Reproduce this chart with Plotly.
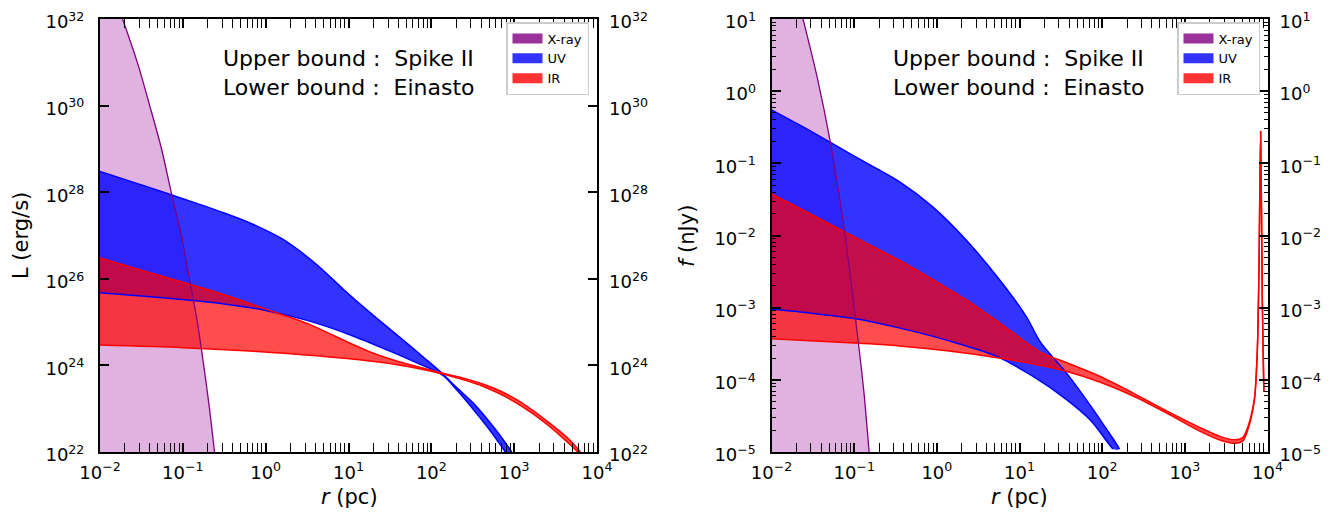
import numpy as np
import plotly.graph_objects as go

# ---------------- data (log10 values) ----------------
# Left panel: L (erg/s) vs r (pc)
xray_L_logr = [-2.0, -1.728, -1.54, -1.40, -1.26, -1.14, -1.02, -0.92, -0.827, -0.748, -0.68, -0.62, -0.58]
xray_L_up = [33.4, 32.0, 30.94, 30.0, 29.02, 28.0, 27.02, 26.0, 25.03, 24.0, 23.03, 22.04, 21.36]

uv_L_up_logr = [-2.0, -1.5, -1.0, -0.5, -0.19, 0.21, 0.615, 0.937, 1.26, 1.624, 1.948, 2.14, 2.3, 2.5, 2.7, 2.85, 2.97]
uv_L_up = [28.48, 28.17, 27.85, 27.52, 27.29, 26.91, 26.33, 25.76, 25.22, 24.64, 24.12, 23.80, 23.50, 23.14, 22.70, 22.33, 22.0]
uv_L_low_logr = [-2.0, -1.5, -1.0, -0.5, 0.0, 0.5, 1.0, 1.5, 1.8, 2.14, 2.3, 2.5, 2.7, 2.85, 2.93]
uv_L_low = [25.68, 25.60, 25.52, 25.42, 25.27, 25.04, 24.72, 24.33, 24.08, 23.77, 23.45, 23.0, 22.52, 22.12, 21.9]

ir_L_up_logr = [-2.0, -1.5, -1.0, -0.5, 0.0, 0.5, 1.0, 1.26, 1.62, 2.14, 2.4, 2.62, 2.82, 3.02, 3.22, 3.42, 3.6, 3.72, 3.80]
ir_L_up = [26.48, 26.20, 25.92, 25.63, 25.30, 24.97, 24.53, 24.31, 24.08, 23.82, 23.70, 23.57, 23.42, 23.22, 22.97, 22.68, 22.40, 22.18, 22.0]
ir_L_low_logr = [-2.0, -1.0, -0.19, 0.615, 1.26, 1.7, 2.14, 2.4, 2.62, 2.82, 3.02, 3.22, 3.42, 3.6, 3.77]
ir_L_low = [24.47, 24.41, 24.33, 24.22, 24.10, 23.98, 23.80, 23.66, 23.52, 23.35, 23.14, 22.89, 22.60, 22.30, 22.0]

# Right panel: f (nJy) vs r (pc)
xray_R_logr = [-2.0, -1.619, -1.449, -1.286, -1.125, -0.983, -0.882, -0.822, -0.78]
xray_R_up = [2.7, 1.0, 0.20, -0.72, -1.87, -3.16, -4.17, -4.96, -5.5]

uv_R_up_logr = [-2.0, -1.5, -1.0, -0.458, -0.053, 0.352, 0.756, 1.08, 1.26, 1.565, 1.89, 2.21]
uv_R_up = [-0.26, -0.57, -0.90, -1.25, -1.60, -2.06, -2.61, -3.12, -3.49, -3.90, -4.41, -4.96]
uv_R_low_logr = [-2.0, -1.5, -1.0, -0.458, 0.149, 0.716, 1.16, 1.565, 1.85, 2.13]
uv_R_low = [-3.02, -3.08, -3.15, -3.28, -3.46, -3.67, -3.95, -4.27, -4.55, -4.96]

ir_R_up_logr = [-2.0, -1.5, -1.0, -0.397, -0.053, 0.352, 0.756, 1.26, 1.565, 1.97, 2.37, 2.78, 3.18, 3.44, 3.62,
                3.70, 3.76, 3.84, 3.877, 3.897, 3.917, 3.937, 3.956]
ir_R_up = [-1.425, -1.72, -2.02, -2.38, -2.61, -2.89, -3.21, -3.62, -3.76, -3.95, -4.18, -4.43, -4.66, -4.79, -4.83,
           -4.80, -4.66, -4.27, -3.58, -2.43, -0.56, -2.89, -4.17]
ir_R_low_logr = [-2.0, -1.0, -0.458, 0.149, 0.716, 1.26, 1.565, 1.97, 2.37, 2.78, 3.18, 3.44, 3.62,
                 3.70, 3.76, 3.84, 3.877, 3.897, 3.917, 3.937, 3.956]
ir_R_low = [-3.43, -3.49, -3.53, -3.60, -3.69, -3.80, -3.88, -4.03, -4.22, -4.46, -4.71, -4.84, -4.88,
            -4.85, -4.70, -4.30, -3.60, -2.45, -0.56, -2.89, -4.17]

x_decades = [-2, -1, 0, 1, 2, 3, 4]
yL_decades = [22, 24, 26, 28, 30, 32]
yR_decades = [-5, -4, -3, -2, -1, 0, 1]
legend_names = ["X-ray", "UV", "IR"]

# ---------------- styling ----------------
FONT = "DejaVu Sans"
C_XRAY_FILL = "rgb(224,178,224)"
C_UV_FILL = "rgba(0,0,255,0.8)"
C_IR_FILL = "rgba(255,0,0,0.7)"
LEG_COLORS = ["rgb(153,51,153)", "rgb(51,51,255)", "rgb(255,51,51)"]
SPL = dict(shape="spline", smoothing=0.8)


def P(a):
    return 10.0 ** np.asarray(a, dtype=float)


def sup(e):
    s = str(e).replace("-", "\u2212")
    return f"10<sup>{s}</sup>"


def band_fill(up_r, up_v, lo_r, lo_v, color, xa, ya):
    xs = np.concatenate([P(up_r), P(lo_r)[::-1]])
    ys = np.concatenate([P(up_v), P(lo_v)[::-1]])
    return go.Scatter(x=xs, y=ys, mode="lines", fill="toself", fillcolor=color,
                      line=dict(width=0, **SPL), hoverinfo="skip", showlegend=False,
                      xaxis=xa, yaxis=ya)


def bound_line(r, v, color, xa, ya):
    return go.Scatter(x=P(r), y=P(v), mode="lines", line=dict(color=color, width=1.5, **SPL),
                      hoverinfo="skip", showlegend=False, xaxis=xa, yaxis=ya)


fig = go.Figure()

for (xa, ya, yov, xr, xu, ur, uu, lr, lu, ir, iu, jr, ju, leg) in [
    ("x", "y", "y3", xray_L_logr, xray_L_up, uv_L_up_logr, uv_L_up, uv_L_low_logr, uv_L_low,
     ir_L_up_logr, ir_L_up, ir_L_low_logr, ir_L_low, "legend"),
    ("x2", "y2", "y4", xray_R_logr, xray_R_up, uv_R_up_logr, uv_R_up, uv_R_low_logr, uv_R_low,
     ir_R_up_logr, ir_R_up, ir_R_low_logr, ir_R_low, "legend2"),
]:
    # X-ray fill down to the bottom of the axis
    fig.add_trace(go.Scatter(x=P(xr), y=P(xu), mode="lines", fill="tozeroy",
                             fillcolor=C_XRAY_FILL, line=dict(width=0, **SPL), hoverinfo="skip",
                             showlegend=False, xaxis=xa, yaxis=ya))
    fig.add_trace(band_fill(ur, uu, lr, lu, C_UV_FILL, xa, ya))
    fig.add_trace(band_fill(ir, iu, jr, ju, C_IR_FILL, xa, ya))
    fig.add_trace(bound_line(ur, uu, "blue", xa, ya))
    fig.add_trace(bound_line(lr, lu, "blue", xa, ya))
    fig.add_trace(bound_line(ir, iu, "red", xa, ya))
    fig.add_trace(bound_line(jr, ju, "red", xa, ya))
    # X-ray boundary line, on the overlay axis (drawn on top, also carries right labels)
    fig.add_trace(go.Scatter(x=P(xr), y=P(xu), mode="lines",
                             line=dict(color="purple", width=1.3, **SPL),
                             hoverinfo="skip", showlegend=False, xaxis=xa, yaxis=yov))
    # legend-only entries (wide rectangular patches)
    for name, col in zip(legend_names, LEG_COLORS):
        fig.add_trace(go.Scatter(x=[None], y=[None], mode="lines",
                                 line=dict(width=12, color=col), name=name, legend=leg,
                                 xaxis=xa, yaxis=ya))

minor_x = [k * 10.0 ** n for n in range(-2, 4) for k in range(2, 10)]
minor_yR = [k * 10.0 ** n for n in range(-5, 1) for k in range(2, 10)]

tickfont = dict(family=FONT, size=18, color="black")
common_axis = dict(type="log", showgrid=False, zeroline=False, showline=True, linecolor="black",
                   linewidth=2, ticks="inside", ticklen=9, tickwidth=1.6, tickcolor="black",
                   mirror="allticks", tickfont=tickfont, tickmode="array", automargin=False)
minor_style = dict(ticks="inside", ticklen=4, tickwidth=1.1, tickcolor="black", showgrid=False)
overlay_axis = dict(type="log", showgrid=False, zeroline=False, showline=False, ticks="",
                    side="right", tickfont=tickfont, tickmode="array", automargin=False,
                    ticklabelstandoff=11, ticklabelshift=3)

xdomL = [100 / 1335, 597 / 1335]
xdomR = [771.5 / 1335, 1267.5 / 1335]
ydom = [1 - 452 / 516, 1 - 19 / 516]

fig.update_layout(
    width=1335, height=516,
    margin=dict(l=0, r=0, t=0, b=0, autoexpand=False),
    paper_bgcolor="white", plot_bgcolor="white",
    font=dict(family=FONT, color="black"),
    xaxis=dict(domain=xdomL, anchor="y", range=[-2, 4], ticklabelstandoff=3,
               tickvals=P(x_decades), ticktext=[sup(e) for e in x_decades],
               minor=dict(tickvals=minor_x, **minor_style), **common_axis),
    yaxis=dict(domain=ydom, anchor="x", range=[22, 32], ticklabelstandoff=10, ticklabelshift=3,
               tickvals=P(yL_decades), ticktext=[sup(e) for e in yL_decades], **common_axis),
    yaxis3=dict(overlaying="y", anchor="x", range=[22, 32],
                tickvals=P(yL_decades), ticktext=[sup(e) for e in yL_decades], **overlay_axis),
    xaxis2=dict(domain=xdomR, anchor="y2", range=[-2, 4], ticklabelstandoff=3,
                tickvals=P(x_decades), ticktext=[sup(e) for e in x_decades],
                minor=dict(tickvals=minor_x, **minor_style), **common_axis),
    yaxis2=dict(domain=ydom, anchor="x2", range=[-5, 1], ticklabelstandoff=10, ticklabelshift=3,
                tickvals=P(yR_decades), ticktext=[sup(e) for e in yR_decades],
                minor=dict(tickvals=minor_yR, **minor_style), **common_axis),
    yaxis4=dict(overlaying="y2", anchor="x2", range=[-5, 1],
                tickvals=P(yR_decades), ticktext=[sup(e) for e in yR_decades], **overlay_axis),
    legend=dict(x=506 / 1335, y=1 - 22 / 516, xanchor="left", yanchor="top",
                bgcolor="white", bordercolor="#cccccc", borderwidth=1.5,
                font=dict(family=FONT, size=13, color="black"), itemwidth=30, tracegroupgap=0),
    legend2=dict(x=1177 / 1335, y=1 - 22 / 516, xanchor="left", yanchor="top",
                 bgcolor="white", bordercolor="#cccccc", borderwidth=1.5,
                 font=dict(family=FONT, size=13, color="black"), itemwidth=30, tracegroupgap=0),
)

NB = "\u00a0"
ann_font = dict(family=FONT, size=22, color="black")
for x0 in (221, 891):
    fig.add_annotation(x=x0 / 1335, y=1 - 59 / 516, xref="paper", yref="paper", xanchor="left",
                       yanchor="middle", showarrow=False, font=ann_font,
                       text=f"Upper bound :{NB}{NB}Spike II")
    fig.add_annotation(x=x0 / 1335, y=1 - 88 / 516, xref="paper", yref="paper", xanchor="left",
                       yanchor="middle", showarrow=False, font=ann_font,
                       text=f"Lower bound :{NB}{NB}Einasto")

title_font = dict(family=FONT, size=21, color="black")
for (tx, ty, ang, txt) in [(21, 236, -90, "L (erg/s)"), (687, 236, -90, "<i>f</i> (nJy)"),
                           (349, 497, 0, "<i>r</i> (pc)"), (1019, 497, 0, "<i>r</i> (pc)")]:
    fig.add_annotation(x=tx / 1335, y=1 - ty / 516, xref="paper", yref="paper", textangle=ang,
                       xanchor="center", yanchor="middle", showarrow=False, font=title_font,
                       text=txt)

fig.write_html("out.html", config={"displayModeBar": False},
               post_script="document.body.style.margin='0px';")
